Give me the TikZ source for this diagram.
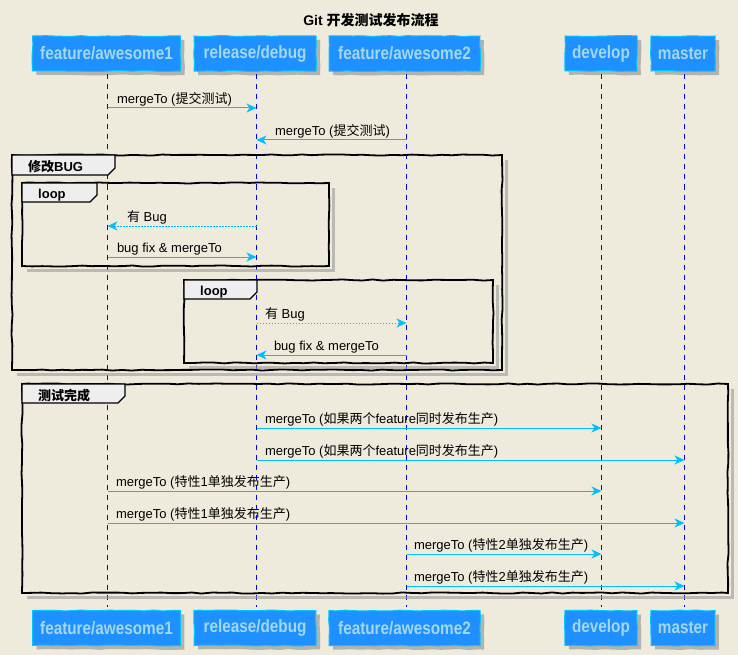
\documentclass[tikz,border=0pt]{standalone}
\usepackage{graphicx}
\usepackage{fontspec}
\setmainfont{Liberation Sans}
\newfontfamily\cjk{Noto Sans CJK SC}
\newcommand{\ptext}[1]{\scalebox{0.85}[1.0]{\bfseries #1}}
\usetikzlibrary{arrows.meta,decorations.pathmorphing,shadows}
\definecolor{bg}{RGB}{238,235,220}
\definecolor{boxfill}{RGB}{30,144,255}
\definecolor{boxline}{RGB}{0,200,255}
\definecolor{boxtext}{RGB}{165,215,235}
\definecolor{arrowc}{RGB}{0,191,255}
\definecolor{lifec}{RGB}{0,0,255}
\definecolor{tabfill}{RGB}{238,238,238}
\tikzset{
  part/.style={rectangle, draw=boxline, fill=boxfill, line width=1pt, minimum height=35pt, inner sep=0pt,
    text=boxtext, font=\fontsize{18}{20}\selectfont,
    decorate, decoration={random steps,segment length=9pt,amplitude=0.5pt},
    drop shadow={shadow xshift=4pt, shadow yshift=-4pt, fill=black!45, opacity=0.6}},
  life/.style={draw=lifec, line width=1pt, dash pattern=on 5pt off 5pt},
  msg/.style={draw=arrowc, line width=1pt, -{Stealth[length=10pt,width=9pt,inset=3pt]}},
  dmsg/.style={msg, dash pattern=on 1.5pt off 1.5pt},
  lbl/.style={inner sep=0pt, font=\fontsize{13}{15}\selectfont, text=black},
  framebox/.style={draw=black, line width=1.8pt, decorate, decoration={random steps,segment length=10pt,amplitude=0.6pt}},
  frameshadow/.style={draw=black!40, line width=3pt, opacity=0.6},
  tabshape/.style={fill=tabfill, draw=black, line width=1.2pt},
  tablbl/.style={inner sep=0pt, font=\bfseries\fontsize{13}{15}\selectfont, anchor=base west},
}
\begin{document}
\begin{tikzpicture}[x=1pt,y=-1pt]
\useasboundingbox[fill=bg] (0,0) rectangle (738,655);

% lifeline x positions
\coordinate (x1) at (107.5,0);
\coordinate (x2) at (256.5,0);
\coordinate (x3) at (406.5,0);
\coordinate (x4) at (601.5,0);
\coordinate (x5) at (684.5,0);

% title
\node[inner sep=0pt, anchor=base, font=\bfseries\fontsize{14}{16}\selectfont] (title) at (371,26) {Git {\cjk\bfseries 开发测试发布流程}};

% participants top
\node[part, minimum width=148pt] (a1t) at (106.5,53.5) {\ptext{feature/awesome1}};
\node[part, minimum width=122pt] (dbt) at (255,53.5) {\ptext{release/debug}};
\node[part, minimum width=151pt] (a2t) at (404.5,53.5) {\ptext{feature/awesome2}};
\node[part, minimum width=72pt] (dvt) at (601,53.5) {\ptext{develop}};
\node[part, minimum width=64pt] (mst) at (683,53.5) {\ptext{master}};
% participants bottom
\node[part, minimum width=148pt] (a1b) at (106.5,628) {\ptext{feature/awesome1}};
\node[part, minimum width=122pt] (dbb) at (255,628) {\ptext{release/debug}};
\node[part, minimum width=151pt] (a2b) at (404.5,628) {\ptext{feature/awesome2}};
\node[part, minimum width=72pt] (dvb) at (601,628) {\ptext{develop}};
\node[part, minimum width=64pt] (msb) at (683,628) {\ptext{master}};

% lifelines
\draw[life] ([yshift=-3pt]x1 |- a1t.south) -- ([yshift=3pt]x1 |- a1b.north);
\draw[life] ([yshift=-3pt]x2 |- dbt.south) -- ([yshift=3pt]x2 |- dbb.north);
\draw[life] ([yshift=-3pt]x3 |- a2t.south) -- ([yshift=3pt]x3 |- a2b.north);
\draw[life] ([yshift=-3pt]x4 |- dvt.south) -- ([yshift=3pt]x4 |- dvb.north);
\draw[life] ([yshift=-3pt]x5 |- mst.south) -- ([yshift=3pt]x5 |- msb.north);

% messages before groups
\draw[msg] (x1 |- 0,108) -- (x2 |- 0,108)
  node[lbl, pos=0, anchor=base west, xshift=9pt, yshift=4.5pt] (m1) {mergeTo ({\cjk 提交测试})};
\draw[msg] (x3 |- 0,140) -- (x2 |- 0,140)
  node[lbl, pos=1, anchor=base west, xshift=18pt, yshift=4.5pt] (m2) {mergeTo ({\cjk 提交测试})};

% group 修改BUG
\draw[frameshadow] (506,160) -- (506,374) -- (17,374);
\draw[framebox] (12,155) rectangle (502,370);
\draw[tabshape] (12,155) -- (115,155) -- (115,168) -- (108,175) -- (12,175) -- cycle;
\node[tablbl] (g1) at (28,171.5) {{\cjk\bfseries 修改}BUG};

% loop 1
\draw[frameshadow] (333,188) -- (333,270) -- (27,270);
\draw[framebox] (22,183) rectangle (329,266);
\draw[tabshape] (22,183) -- (97,183) -- (97,195) -- (90,202) -- (22,202) -- cycle;
\node[tablbl] (lp1) at (38,198) {loop};
\draw[dmsg] (x2 |- 0,226) -- (x1 |- 0,226)
  node[lbl, pos=1, anchor=base west, xshift=19pt, yshift=4.5pt] (m3) {{\cjk 有} Bug};
\draw[msg] (x1 |- 0,257) -- (x2 |- 0,257)
  node[lbl, pos=0, anchor=base west, xshift=9pt, yshift=4.5pt] (m4) {bug fix \& mergeTo};

% loop 2
\draw[frameshadow] (497,285) -- (497,367) -- (189,367);
\draw[framebox] (184,280) rectangle (493,363);
\draw[tabshape] (184,280) -- (257,280) -- (257,292) -- (250,299) -- (184,299) -- cycle;
\node[tablbl] (lp2) at (200,295) {loop};
\draw[dmsg] (x2 |- 0,323) -- (x3 |- 0,323)
  node[lbl, pos=0, anchor=base west, xshift=8pt, yshift=4.5pt] (m5) {{\cjk 有} Bug};
\draw[msg] (x3 |- 0,355) -- (x2 |- 0,355)
  node[lbl, pos=1, anchor=base west, xshift=17pt, yshift=4.5pt] (m6) {bug fix \& mergeTo};

% group 测试完成
\draw[frameshadow] (732,389) -- (732,597) -- (27,597);
\draw[framebox] (22,384) rectangle (728,593);
\draw[tabshape] (22,384) -- (125,384) -- (125,396) -- (118,403) -- (22,403) -- cycle;
\node[tablbl] (g2) at (38,400) {\cjk\bfseries 测试完成};

\draw[msg] (x2 |- 0,428) -- (x4 |- 0,428)
  node[lbl, pos=0, anchor=base west, xshift=8pt, yshift=4.5pt] (m7) {mergeTo ({\cjk 如果两个}feature{\cjk 同时发布生产})};
\draw[msg] (x2 |- 0,460) -- (x5 |- 0,460)
  node[lbl, pos=0, anchor=base west, xshift=8pt, yshift=4.5pt] (m8) {mergeTo ({\cjk 如果两个}feature{\cjk 同时发布生产})};
\draw[msg] (x1 |- 0,491) -- (x4 |- 0,491)
  node[lbl, pos=0, anchor=base west, xshift=8pt, yshift=4.5pt] (m9) {mergeTo ({\cjk 特性}1{\cjk 单独发布生产})};
\draw[msg] (x1 |- 0,523) -- (x5 |- 0,523)
  node[lbl, pos=0, anchor=base west, xshift=8pt, yshift=4.5pt] (m10) {mergeTo ({\cjk 特性}1{\cjk 单独发布生产})};
\draw[msg] (x3 |- 0,554) -- (x4 |- 0,554)
  node[lbl, pos=0, anchor=base west, xshift=7pt, yshift=4.5pt] (m11) {mergeTo ({\cjk 特性}2{\cjk 单独发布生产})};
\draw[msg] (x3 |- 0,586) -- (x5 |- 0,586)
  node[lbl, pos=0, anchor=base west, xshift=7pt, yshift=4.5pt] (m12) {mergeTo ({\cjk 特性}2{\cjk 单独发布生产})};
\end{tikzpicture}
\end{document}
